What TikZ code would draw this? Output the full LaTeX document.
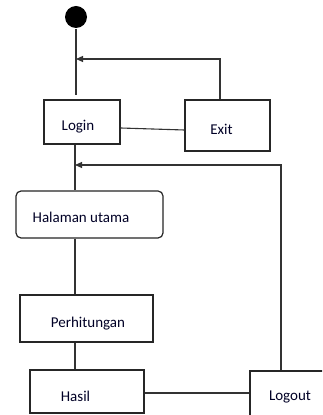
\documentclass[tikz,border=0pt]{standalone}
\usepackage{fontspec}
\setmainfont{Carlito}
\usetikzlibrary{calc,arrows.meta}
\begin{document}
\begin{tikzpicture}[x=1pt,y=1pt,
  line width=1.1pt,
  box/.style={draw=black!85, line width=1.2pt, minimum width=#1, inner sep=0pt},
  txt/.style={anchor=base, font=\fontsize{15}{18}\selectfont, text=black!85!blue},
  arr/.style={-{Triangle[length=7pt,width=6pt]}},
  conn/.style={draw=black!80, line width=1.1pt}]
\useasboundingbox (0,0) rectangle (322,415);
\clip (0,0) rectangle (322,415);
\fill[white] (0,0) rectangle (322,415);
% start
\node[circle, fill=black, minimum size=22pt, inner sep=0pt] (start) at (76,398) {};
% boxes
\node[box=76pt, minimum height=44pt, label={[txt,xshift=-4pt,yshift=-5pt]center:Login}] (login) at (82,293) {};
\node[box=85pt, minimum height=51pt, label={[txt,xshift=-6pt,yshift=-3.5pt]center:Exit}] (exit) at (227.5,289.5) {};
\node[box=147pt, minimum height=47pt, rounded corners=5pt, label={[txt,xshift=-8.5pt,yshift=-2.5pt]center:Halaman utama}] (halaman) at (89.5,200.5) {};
\node[box=133pt, minimum height=47pt, label={[txt,xshift=1.5pt,yshift=-5.5pt]center:Perhitungan}] (perh) at (86.5,96.5) {};
\node[box=114pt, minimum height=43pt, label={[txt,xshift=-11.5pt,yshift=-5.2pt]center:Hasil}] (hasil) at (87,23.5) {};
\node[box=84pt, minimum height=45pt, label={[txt,xshift=-2pt,yshift=-3.5pt]center:Logout}] (logout) at (292,21.5) {};
% junctions
\coordinate (j1) at (76,356);
\coordinate (j2) at (75,250);
\coordinate (exittop) at ($(exit.north)+(-7.5,0)$);
\coordinate (logouttop) at ($(logout.north)+(-11,0)$);
\coordinate (le1) at ($(login.east)+(0,-6)$);
\coordinate (le2) at ($(exit.west)+(0,-4.5)$);
\coordinate (h1) at ($(hasil.east)+(0,-1.5)$);
% connectors
\draw[conn, shorten >=4pt] (start) -- (start |- login.north);
\draw[conn, arr] (exittop) |- (j1);
\draw[conn] (le1) -- (le2);
\draw[conn] (login.south -| j2) -- (halaman.north -| j2);
\draw[conn, arr] (logouttop) |- (j2);
\draw[conn] (halaman.south -| j2) -- (perh.north -| j2);
\draw[conn] (perh.south -| j2) -- (hasil.north -| j2);
\draw[conn] (h1) -- (h1 -| logout.west);
\end{tikzpicture}
\end{document}
